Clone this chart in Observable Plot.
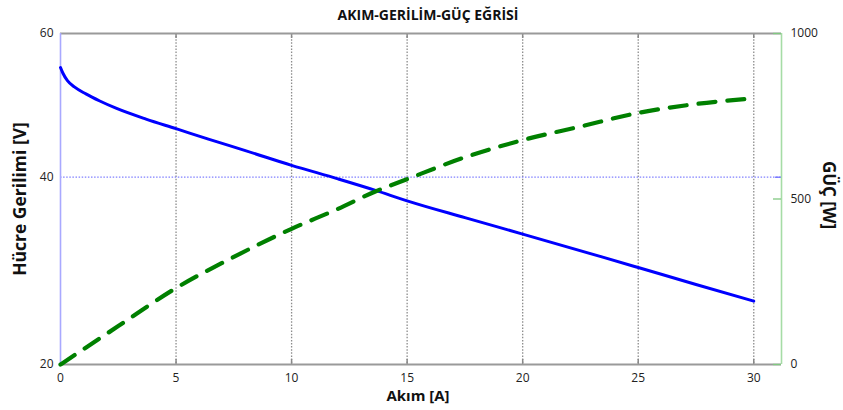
<!DOCTYPE html>
<html><head><meta charset="utf-8">
<script src="https://cdn.jsdelivr.net/npm/d3@7"></script>
<script src="https://cdn.jsdelivr.net/npm/@observablehq/plot@0.6"></script>
<style>
body{margin:0;background:#fff;}
#chart{position:relative;width:843px;height:410px;}
#chart svg{position:absolute;left:0;top:0;}
</style></head><body><div id="chart"></div>
<script>
// Voltage curve (left axis, V)
const currentA = [0, 0.1, 0.3, 0.6, 1.1, 1.7, 2.4, 3.7, 5, 6.4, 8, 10, 12, 13.6, 15, 17.5, 20, 23.5, 25, 27.5, 30];
const voltageV = [54.9, 54.1, 53.0, 52.1, 51.1, 50.1, 49.1, 47.6, 46.3, 44.9, 43.4, 41.5, 39.8, 38.4, 37.1, 35.1, 33.2, 30.6, 29.5, 27.7, 26.0];
// Power curve (right axis, W)
const powerCurrentA = [0, 2.5, 5, 7.5, 10, 12, 13.6, 15, 17.5, 20, 22.5, 25, 27.5, 30];
const powerW = [0, 116, 231, 325, 410, 470, 522, 560, 626, 678, 719, 760, 787, 804];

const xTicks = [0, 5, 10, 15, 20, 25, 30];
const gridX = [5, 10, 15, 20, 25, 30];
const voltTicks = [20, 40, 60];
const powerTicks = [0, 500, 1000];
const title = "AKIM-GERİLİM-GÜÇ EĞRİSİ";
const xLabel = "Akım [A]";
const yLabelLeft = "Hücre Gerilimi [V]";
const yLabelRight = "GÜÇ [W]";

const W = 843, H = 410, mL = 60, mR = 62, mT = 33, mB = 46;
const frameW = W - mL - mR, frameH = H - mT - mB;
const xDomain = [0, 31.2];
const font = "'Open Sans', sans-serif";

const voltData = currentA.map((a, i) => ({a, v: voltageV[i]}));
const powData = powerCurrentA.map((a, i) => ({a, p: powerW[i]}));

const base = {
  width: W, height: H, marginLeft: mL, marginRight: mR, marginTop: mT, marginBottom: mB,
  style: {fontFamily: font, fontSize: "12px", color: "#222", background: "transparent", overflow: "visible"}
};

const p1 = Plot.plot({
  ...base,
  x: {domain: xDomain, axis: null},
  y: {type: "sqrt", domain: [20, 60], axis: null},
  marks: [
    Plot.ruleX(gridX, {stroke: "#8c8c8c", strokeWidth: 1.3, strokeDasharray: "1.5,1.6"}),
    Plot.ruleY([40], {stroke: "#8080ff", strokeWidth: 1.2, strokeDasharray: "1.5,1.6"}),
    Plot.tickX(gridX, {stroke: "#888", strokeWidth: 1.5, insetTop: frameH - 5}),
    Plot.tickX(gridX, {stroke: "#888", strokeWidth: 1.5, insetBottom: frameH - 5}),
    Plot.tickY([40], {stroke: "#7070ff", strokeWidth: 1.3, insetLeft: frameW - 6}),
    Plot.ruleY([20], {stroke: "#9a9a9a", strokeWidth: 1.8}),
    Plot.ruleY([60], {stroke: "#9a9a9a", strokeWidth: 1.8}),
    Plot.ruleX([0], {stroke: "#a9a9ff", strokeWidth: 1.6}),
    Plot.axisX(xTicks, {anchor: "bottom", tickSize: 0, tickPadding: 9, label: null, fontSize: 12, tickFormat: d => String(d)}),
    Plot.axisY(voltTicks, {anchor: "left", tickSize: 0, tickPadding: 7, label: null, fontSize: 12, tickFormat: d => String(d)}),
    Plot.line(voltData, {x: "a", y: "v", stroke: "#0000ff", strokeWidth: 3, curve: "monotone-x"}),
    Plot.text([title], {frameAnchor: "top", lineAnchor: "middle", textAnchor: "middle", dy: -18, dx: 7, fontWeight: "bold", fontSize: 14, fill: "#111"}),
    Plot.text([xLabel], {frameAnchor: "bottom", lineAnchor: "middle", textAnchor: "middle", dy: 32, dx: -3, fontWeight: "bold", fontSize: 15, fill: "#111"}),
    Plot.text([yLabelLeft], {frameAnchor: "left", lineAnchor: "middle", textAnchor: "middle", rotate: -90, dx: -40, dy: 0, fontWeight: "bold", fontSize: 17.5, fill: "#111"})
  ]
});

const p2 = Plot.plot({
  ...base,
  x: {domain: xDomain, axis: null},
  y: {domain: [0, 1000], axis: null},
  marks: [
    Plot.ruleX([xDomain[1]], {stroke: "#a6dca6", strokeWidth: 1.6}),
    Plot.tickY(powerTicks, {stroke: "#80c880", strokeWidth: 1.3, insetLeft: frameW - 8}),
    Plot.axisY(powerTicks, {anchor: "right", tickSize: 0, tickPadding: 9, label: null, fontSize: 12, tickFormat: d => String(d)}),
    Plot.line(powData, {x: "a", y: "p", stroke: "#008000", strokeWidth: 4.2, strokeDasharray: "17,12", curve: "monotone-x"}),
    Plot.text([yLabelRight], {frameAnchor: "right", lineAnchor: "middle", textAnchor: "middle", rotate: 90, dx: 47, dy: -4, fontWeight: "bold", fontSize: 17, fill: "#111"})
  ]
});

const c = document.getElementById("chart");
c.appendChild(p1);
c.appendChild(p2);
</script>
</body></html>
